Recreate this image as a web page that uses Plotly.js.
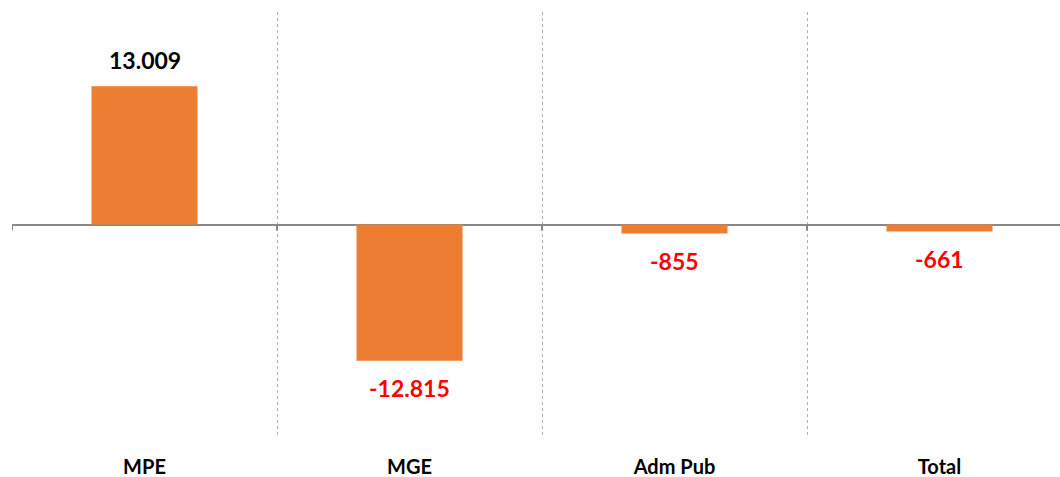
<!DOCTYPE html>
<html>
<head>
<meta charset="utf-8">
<script src="https://cdn.plot.ly/plotly-3.0.1.min.js"></script>
<style>html,body{margin:0;padding:0;background:#fff;overflow:hidden}</style>
</head>
<body>
<div id="chart" style="width:1060px;height:477px"></div>
<script>
const categories = ["MPE", "MGE", "Adm Pub", "Total"];
const values = [13009, -12815, -855, -661];
const valueLabels = ["13.009", "-12.815", "-855", "-661"];

const FONT = "Lato, 'Open Sans', sans-serif";

const annotations = values.map((v, i) => ({
  x: categories[i], y: v, xref: "x", yref: "y",
  text: "<b>" + valueLabels[i] + "</b>",
  showarrow: false,
  yanchor: v >= 0 ? "bottom" : "top",
  yshift: v >= 0 ? 10 : -11,
  font: {family: FONT, size: 23, color: v >= 0 ? "#000000" : "#FF0000"}
}));

// small tick marks below the zero line at category boundaries
const shapes = categories.map((c, i) => ({
  type: "line", xref: "x", yref: "y",
  x0: i - 0.5, x1: i - 0.5,
  ysizemode: "pixel", yanchor: 0, y0: 0, y1: -6,
  line: {color: "#888888", width: 2}
}));

const trace = {
  type: "bar",
  x: categories,
  y: values,
  marker: {color: "#ED7D31"},
  width: 0.4,
  hoverinfo: "none"
};

const layout = {
  width: 1060, height: 477,
  margin: {l: 12, r: 0, t: 12, b: 40},
  paper_bgcolor: "#ffffff", plot_bgcolor: "#ffffff",
  showlegend: false,
  xaxis: {
    type: "category",
    range: [-0.5, 3.5 - 12 / 265],
    tickson: "boundaries",
    showgrid: true, gridcolor: "#b0b0b0", griddash: "dot", gridwidth: 1,
    ticks: "", showline: false, zeroline: false,
    tickfont: {family: FONT, size: 20, color: "#000000", weight: "bold"},
    ticklabelstandoff: 16
  },
  yaxis: {
    range: [-20000, 20000],
    showgrid: false, showticklabels: false, ticks: "",
    zeroline: true, zerolinecolor: "#888888", zerolinewidth: 2,
    showline: false
  },
  annotations: annotations,
  shapes: shapes
};

Plotly.newPlot("chart", [trace], layout, {staticPlot: true, displayModeBar: false});
</script>
</body>
</html>
